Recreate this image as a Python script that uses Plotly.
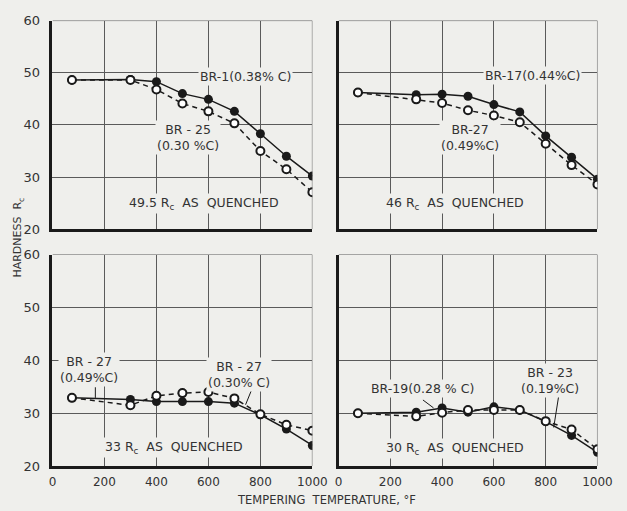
import plotly.graph_objects as go

temps = [75, 300, 400, 500, 600, 700, 800, 900, 1000]

# Top-left panel
br1 = [48.6, 48.7, 48.3, 46.0, 44.9, 42.6, 38.3, 34.0, 30.2]
br25 = [48.6, 48.6, 46.8, 44.1, 42.6, 40.3, 35.0, 31.5, 27.1]
# Top-right panel
br17 = [46.2, 45.8, 45.9, 45.5, 43.9, 42.5, 37.9, 33.8, 29.6]
br27a = [46.2, 44.9, 44.2, 42.8, 41.8, 40.5, 36.4, 32.3, 28.6]
# Bottom-left panel
br27b = [32.9, 32.6, 32.2, 32.2, 32.2, 31.9, 29.7, 27.0, 23.9]
br27c = [32.9, 31.5, 33.3, 33.8, 34.0, 32.8, 29.8, 27.8, 26.7]
# Bottom-right panel
br19 = [30.0, 30.2, 31.0, 30.2, 31.2, 30.6, 28.4, 25.8, 22.6]
br23 = [30.0, 29.4, 30.1, 30.6, 30.6, 30.6, 28.5, 26.9, 23.2]

x_ticks = [0, 200, 400, 600, 800, 1000]
y_ticks = [20, 30, 40, 50, 60]

BG = "#efefec"
INK = "#1a1a1a"
GRID = "#5a5a5a"
TXT = "#333333"
FONT = "DejaVu Sans"

panels = [
    ("x", "y", br1, br25),
    ("x2", "y2", br17, br27a),
    ("x3", "y3", br27b, br27c),
    ("x4", "y4", br19, br23),
]

fig = go.Figure()
for xa, ya, solid, dashed in panels:
    fig.add_trace(go.Scatter(
        x=temps, y=dashed, xaxis=xa, yaxis=ya, mode="lines",
        line=dict(color=INK, width=1.5, dash="5px,4px"), showlegend=False))
    fig.add_trace(go.Scatter(
        x=temps, y=solid, xaxis=xa, yaxis=ya, mode="lines+markers",
        line=dict(color=INK, width=1.5),
        marker=dict(size=9, color=INK, line=dict(width=0)), showlegend=False))
    fig.add_trace(go.Scatter(
        x=temps, y=dashed, xaxis=xa, yaxis=ya, mode="markers",
        marker=dict(size=8, color="white", line=dict(color=INK, width=2)),
        showlegend=False))

xl = [0.0797, 0.5072]
xr = [0.5502, 0.9761]
yt = [0.5519, 0.9726]
yb = [0.0744, 0.5010]


def xax(domain, anchor, labels):
    return dict(domain=domain, anchor=anchor, range=[0, 1000], tickvals=x_ticks,
                showticklabels=labels, showgrid=True, gridcolor=GRID, gridwidth=1,
                showline=True, linecolor=INK, linewidth=2.5, zeroline=False,
                ticks="", ticklabelstandoff=3,
                tickfont=dict(family=FONT, size=12, color=TXT))


def yax(domain, anchor, labels):
    return dict(domain=domain, anchor=anchor, range=[20, 60], tickvals=y_ticks,
                showticklabels=labels, showgrid=True, gridcolor=GRID, gridwidth=1,
                showline=True, linecolor=INK, linewidth=2.5, zeroline=False,
                ticks="", ticklabelstandoff=7,
                tickfont=dict(family=FONT, size=13, color=TXT))


fig.update_layout(
    width=627, height=511, margin=dict(l=0, r=0, t=0, b=0),
    paper_bgcolor=BG, plot_bgcolor=BG,
    xaxis=xax(xl, "y", False), yaxis=yax(yt, "x", True),
    xaxis2=xax(xr, "y2", False), yaxis2=yax(yt, "x2", False),
    xaxis3=xax(xl, "y3", True), yaxis3=yax(yb, "x3", True),
    xaxis4=xax(xr, "y4", True), yaxis4=yax(yb, "x4", False),
)

# top/right thin borders
for xa, ya in [("x", "y"), ("x2", "y2"), ("x3", "y3"), ("x4", "y4")]:
    fig.add_shape(type="line", xref=xa, yref=ya, x0=0, x1=1000, y0=60, y1=60,
                  line=dict(color=GRID, width=1))
    fig.add_shape(type="line", xref=xa, yref=ya, x0=1000, x1=1000, y0=20, y1=60,
                  line=dict(color=GRID, width=1))

labels = [
    ("x", "y", 743, 49.2, "BR-1(0.38% C)"),
    ("x", "y", 522, 37.5, "BR - 25<br>(0.30 %C)"),
    ("x", "y", 582, 25.0, "49.5 R<sub>c</sub>  AS  QUENCHED"),
    ("x2", "y2", 749, 49.4, "BR-17(0.44%C)"),
    ("x2", "y2", 506, 37.5, "BR-27<br>(0.49%C)"),
    ("x2", "y2", 449, 25.0, "46 R<sub>c</sub>  AS  QUENCHED"),
    ("x3", "y3", 140, 38.3, "BR - 27<br>(0.49%C)"),
    ("x3", "y3", 718, 37.4, "BR - 27<br>(0.30% C)"),
    ("x3", "y3", 466, 23.5, "33 R<sub>c</sub>  AS  QUENCHED"),
    ("x4", "y4", 326, 34.7, "BR-19(0.28 % C)"),
    ("x4", "y4", 815, 36.2, "BR - 23<br>(0.19%C)"),
    ("x4", "y4", 449, 23.3, "30 R<sub>c</sub>  AS  QUENCHED"),
]
for xa, ya, x, y, t in labels:
    fig.add_annotation(xref=xa, yref=ya, x=x, y=y, text=t, showarrow=False,
                       font=dict(family=FONT, size=12.5, color=TXT),
                       bgcolor=BG, borderpad=1)

leaders = [
    ("x3", "y3", 165, 34.9, 165, 32.9),
    ("x3", "y3", 776, 35.6, 743, 31.6),
    ("x4", "y4", 326, 32.5, 367, 31.0),
    ("x4", "y4", 850, 33.2, 831, 27.3),
]
for xa, ya, x0, y0, x1, y1 in leaders:
    fig.add_shape(type="line", xref=xa, yref=ya, x0=x0, y0=y0, x1=x1, y1=y1,
                  line=dict(color=INK, width=1))

fig.add_annotation(xref="paper", yref="paper", x=0.023, y=0.535,
                   xanchor="center", yanchor="middle",
                   text="HARDNESS  R<sub>c</sub>", textangle=-90, showarrow=False,
                   font=dict(family=FONT, size=11, color=TXT))
fig.add_annotation(xref="paper", yref="paper", x=0.53, y=0.0,
                   xanchor="center", yanchor="bottom", yshift=-5, borderpad=0,
                   text="TEMPERING  TEMPERATURE, °F", showarrow=False,
                   font=dict(family=FONT, size=11.5, color=TXT))

fig.write_html("out.html")
